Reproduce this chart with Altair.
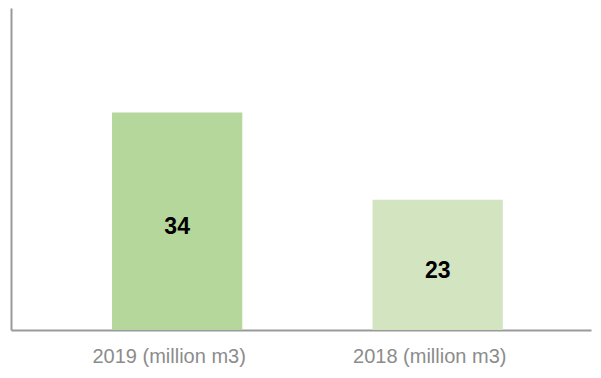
import altair as alt
import pandas as pd

categories = ["2019 (million m3)", "2018 (million m3)"]
values = [34, 23]
colors = ["#b6d79c", "#d2e4c0"]

Y_MIN, Y_MAX = 6.56, 47.2

df = pd.DataFrame({"cat": categories, "value": values, "color": colors})

x = alt.X(
    "cat:N",
    sort=categories,
    scale=alt.Scale(paddingInner=0.5, paddingOuter=0.363, align=0.534),
    axis=alt.Axis(
        title=None,
        labelAngle=0,
        ticks=False,
        domainColor="#9a9a9a",
        domainWidth=2,
        labelColor="#8c8c8c",
        labelFont="Liberation Sans",
        labelFontSize=20,
        labelPadding=16,
        labelOffset=-8,
    ),
)

y_scale = alt.Scale(domain=[Y_MIN, Y_MAX], zero=False, clamp=True, nice=False)

bars = alt.Chart(df).mark_bar().encode(
    x=x,
    y=alt.Y(
        "value:Q",
        scale=y_scale,
        axis=alt.Axis(
            title=None, labels=False, ticks=False, grid=False,
            domainColor="#9a9a9a", domainWidth=2,
        ),
    ),
    color=alt.Color("color:N", scale=None),
)

text = alt.Chart(df).transform_calculate(
    mid=f"(datum.value + {Y_MIN}) / 2"
).mark_text(
    font="Liberation Sans", fontSize=23, fontWeight="bold", color="black",
    baseline="middle", dy=6,
).encode(
    x=alt.X("cat:N", sort=categories),
    y=alt.Y("mid:Q", scale=y_scale),
    text="value:Q",
)

chart = (bars + text).properties(
    width=580,
    height=322,
    autosize=alt.AutoSizeParams(type="none"),
    padding={"left": 3, "top": 0, "right": 2, "bottom": 40},
).configure_view(stroke=None)

chart.save("out.html", embed_options={"renderer": "svg", "actions": False})
